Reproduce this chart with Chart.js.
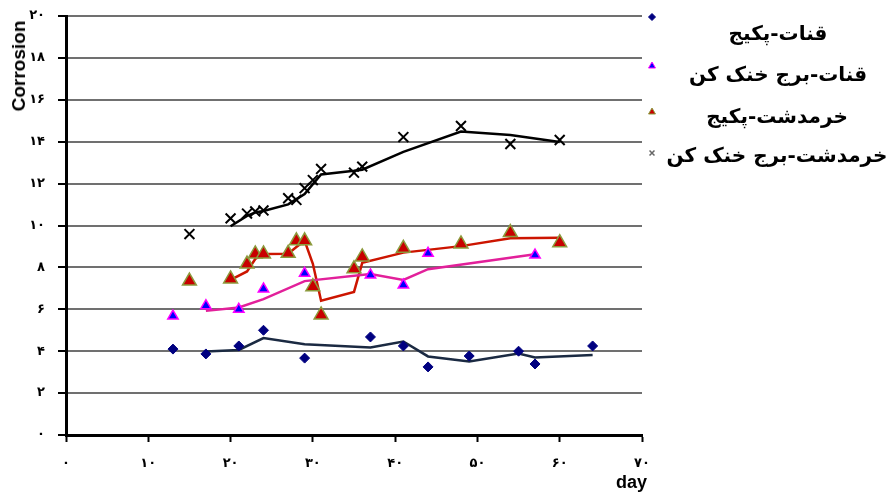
<!DOCTYPE html>
<html>
<head>
<meta charset="utf-8">
<script src="https://cdn.jsdelivr.net/npm/chart.js@4"></script>
<style>
  body { margin: 0; background: #fff; }
  #wrap { position: relative; width: 893px; height: 492px; }
  .leg { position: absolute; font: bold 20px "DejaVu Sans"; direction: rtl; white-space: nowrap; transform: translate(-50%, -50%); color: #000; }
  #ytitle { position: absolute; left: 19px; top: 66px; font: bold 19px "Liberation Sans"; transform: translate(-50%, -50%) rotate(-90deg); white-space: nowrap; }
  #xtitle { position: absolute; left: 616px; top: 472px; font: bold 18px "Liberation Sans"; }
</style>
</head>
<body>
<div id="wrap">
  <canvas id="chart" width="893" height="492"></canvas>
  <div id="ytitle">Corrosion</div>
  <div id="xtitle">day</div>
  <div class="leg" style="left:778px;top:33px">قنات-پکیج</div>
  <div class="leg" style="left:778px;top:74px">قنات-برج خنک کن</div>
  <div class="leg" style="left:777px;top:116px">خرمدشت-پکیج</div>
  <div class="leg" style="left:777px;top:155px">خرمدشت-برج خنک کن</div>
</div>
<script>
// days and corrosion readings
const daysQanatPackage = [13, 17, 21, 24, 29, 37, 41, 44, 49, 55, 57, 64];
const qanatPackage = [4.1, 3.87, 4.25, 5.0, 3.67, 4.68, 4.25, 3.25, 3.77, 4.0, 3.39, 4.25];

const daysQanatTower = [13, 17, 21, 24, 29, 37, 41, 44, 57];
const qanatTower = [5.68, 6.17, 6.0, 6.97, 7.72, 7.64, 7.16, 8.67, 8.59];

const daysKhorram = [15, 20, 22, 23, 24, 27, 28, 29, 30, 31, 35, 36, 41, 48, 54, 60];
const khorramPackage = [7.35, 7.45, 8.16, 8.64, 8.64, 8.67, 9.27, 9.27, 7.08, 5.73, 7.93, 8.5, 8.91, 9.12, 9.66, 9.18];
const khorramTower = [9.59, 10.34, 10.57, 10.67, 10.72, 11.3, 11.22, 11.78, 12.17, 12.7, 12.52, 12.81, 14.22, 14.75, 13.89, 14.08];

const seriesNames = ['قنات-پکیج', 'قنات-برج خنک کن', 'خرمدشت-پکیج', 'خرمدشت-برج خنک کن'];
const yTickLabels = ['۰', '۲', '۴', '۶', '۸', '۱۰', '۱۲', '۱۴', '۱۶', '۱۸', '۲۰'];
const xTickLabels = ['۰', '۱۰', '۲۰', '۳۰', '۴۰', '۵۰', '۶۰', '۷۰'];

function pts(xs, ys) {
  return xs.map((x, i) => ({ x, y: ys[i] }));
}

// 2 period moving average trendline, like excel does
function movingAvg(xs, ys) {
  const out = [];
  for (let i = 1; i < ys.length; i++) out.push({ x: xs[i], y: (ys[i - 1] + ys[i]) / 2 });
  return out;
}

const markerStyles = [
  { pointStyle: 'rectRot', radius: 5, bg: '#000080', border: '#000080', bw: 1 },
  { pointStyle: 'triangle', radius: 6, bg: '#0000ff', border: '#ff00ff', bw: 1.5 },
  { pointStyle: 'triangle', radius: 8, bg: '#c80000', border: '#8c9a3c', bw: 1.5 },
  { pointStyle: 'crossRot', radius: 7, bg: '#000', border: '#000', bw: 2 }
];

const lineColors = ['#1b2a42', '#e2209a', '#cc1500', '#000'];

const xs = [daysQanatPackage, daysQanatTower, daysKhorram, daysKhorram];
const ys = [qanatPackage, qanatTower, khorramPackage, khorramTower];

const datasets = [];
ys.forEach((vals, k) => {
  const m = markerStyles[k];
  datasets.push({
    label: seriesNames[k],
    data: pts(xs[k], vals),
    pointStyle: m.pointStyle,
    pointRadius: m.radius,
    pointBackgroundColor: m.bg,
    pointBorderColor: m.border,
    pointBorderWidth: m.bw,
    showLine: false
  });
});
ys.forEach((vals, k) => {
  datasets.push({
    label: seriesNames[k] + ' trend',
    data: movingAvg(xs[k], vals),
    showLine: true,
    borderColor: lineColors[k],
    borderWidth: 2.5,
    pointRadius: 0,
    tension: 0
  });
});

// small markers for the html legend
const legendMarkers = {
  id: 'legendMarkers',
  afterDraw(c) {
    const g = c.ctx;
    const pos = [[652, 17], [652, 66], [652, 112], [652, 153]];
    const sizes = [3.5, 4, 4, 3.5];
    pos.forEach(([x, y], k) => {
      const m = markerStyles[k];
      g.save();
      g.fillStyle = m.bg;
      g.strokeStyle = k == 3 ? '#666' : m.border;
      g.lineWidth = k == 3 ? 1.5 : 1;
      Chart.helpers.drawPoint(g, { pointStyle: m.pointStyle, radius: sizes[k], rotation: 0, borderWidth: g.lineWidth }, x, y);
      g.restore();
    });
  }
};

const ctx = document.getElementById('chart').getContext('2d');
const chart = new Chart(ctx, {
  type: 'scatter',
  data: { datasets },
  plugins: [legendMarkers],
  options: {
    responsive: false,
    animation: false,
    devicePixelRatio: 1,
    layout: { padding: { left: 0, top: 16, right: 251, bottom: 0 } },
    plugins: { legend: { display: false }, tooltip: { enabled: false } },
    scales: {
      x: {
        type: 'linear', min: 0, max: 70,
        afterFit: s => { s.height = 57; s.paddingLeft = 0; s.paddingRight = 0; },
        border: { color: '#000', width: 3 },
        grid: { drawOnChartArea: false, drawTicks: true, tickLength: 7, tickColor: '#000', tickWidth: 2 },
        ticks: {
          stepSize: 10, padding: 14, color: '#000',
          font: { family: 'DejaVu Sans', size: 13, weight: 'bold' },
          callback: (v, i) => xTickLabels[i]
        }
      },
      y: {
        min: 0, max: 20,
        afterFit: s => { s.width = 66; s.paddingTop = 0; s.paddingBottom = 0; },
        border: { color: '#000', width: 3 },
        grid: { color: '#707070', lineWidth: 2, tickLength: 8, tickColor: '#000', tickWidth: 2 },
        ticks: {
          stepSize: 2, padding: 13, color: '#000',
          font: { family: 'DejaVu Sans', size: 13, weight: 'bold' },
          callback: (v, i) => yTickLabels[i]
        }
      }
    }
  }
});
</script>
</body>
</html>
